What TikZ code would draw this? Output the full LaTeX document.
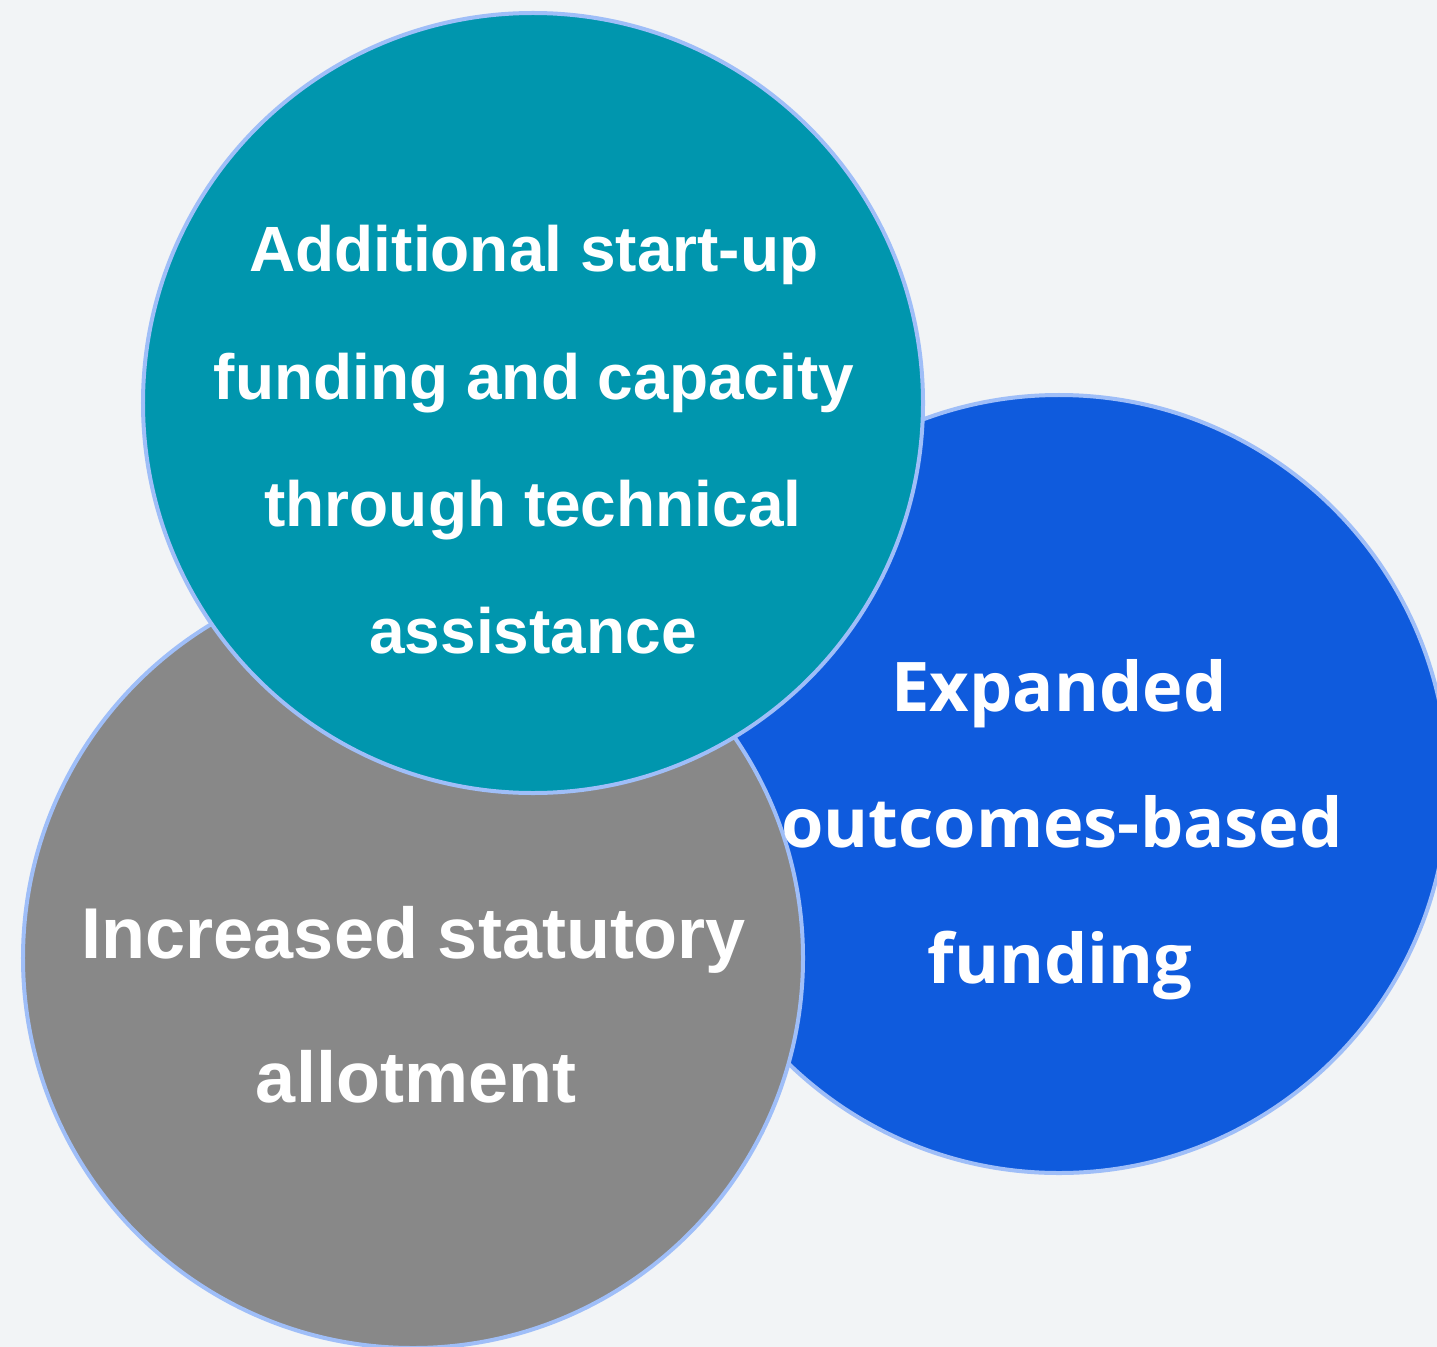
\documentclass[tikz,border=0pt]{standalone}
\usepackage{fontspec}
\newfontfamily\arialfam{Liberation Sans}
\newfontfamily\openfam{Open Sans}
\definecolor{bgc}{HTML}{F2F4F6}
\definecolor{tealc}{HTML}{0096AE}
\definecolor{bluec}{HTML}{0F5BDD}
\definecolor{grayc}{HTML}{888888}
\definecolor{rimc}{HTML}{9FBEF8}
\tikzset{
  disc/.style={circle, draw=rimc, line width=4bp, minimum size=#1, inner sep=0pt},
  tealtxt/.style={anchor=base, text=white, inner sep=0pt, font=\arialfam\bfseries\fontsize{64bp}{64bp}\selectfont},
  graytxt/.style={anchor=base, text=white, inner sep=0pt, font=\arialfam\bfseries\fontsize{72bp}{72bp}\selectfont},
  bluetxt/.style={anchor=base, text=white, inner sep=0pt, font=\openfam\bfseries\fontsize{68.5bp}{68.5bp}\selectfont},
}
\begin{document}
\begin{tikzpicture}[x=1bp,y=-1bp]
\fill[bgc] (0,0) rectangle (1437,1347);
\useasboundingbox (0,0) rectangle (1437,1347);
\clip (0,0) rectangle (1437,1347);
\node[disc=778bp, fill=bluec] (blue) at (1059,784) {};
\node[disc=780bp, fill=grayc] (gray) at (413,958) {};
\node[disc=780bp, fill=tealc] (teal) at (533,403) {};
% teal text
\node[tealtxt] (t1) at (534,272) {Additional start-up};
\node[tealtxt] (t2) at (534,399) {funding and capacity};
\node[tealtxt] (t3) at (533,526) {through technical};
\node[tealtxt] (t4) at (533,653) {assistance};
% gray text
\node[graytxt] (g1) at (414,958) {Increased statutory};
\node[graytxt] (g2) at (416,1102) {allotment};
% blue text
\node[bluetxt] (b1) at (1059,711) {Expanded};
\node[bluetxt] (b2) at (1062,847) {outcomes-based};
\node[bluetxt] (b3) at (1060,983) {funding};
\end{tikzpicture}
\end{document}
